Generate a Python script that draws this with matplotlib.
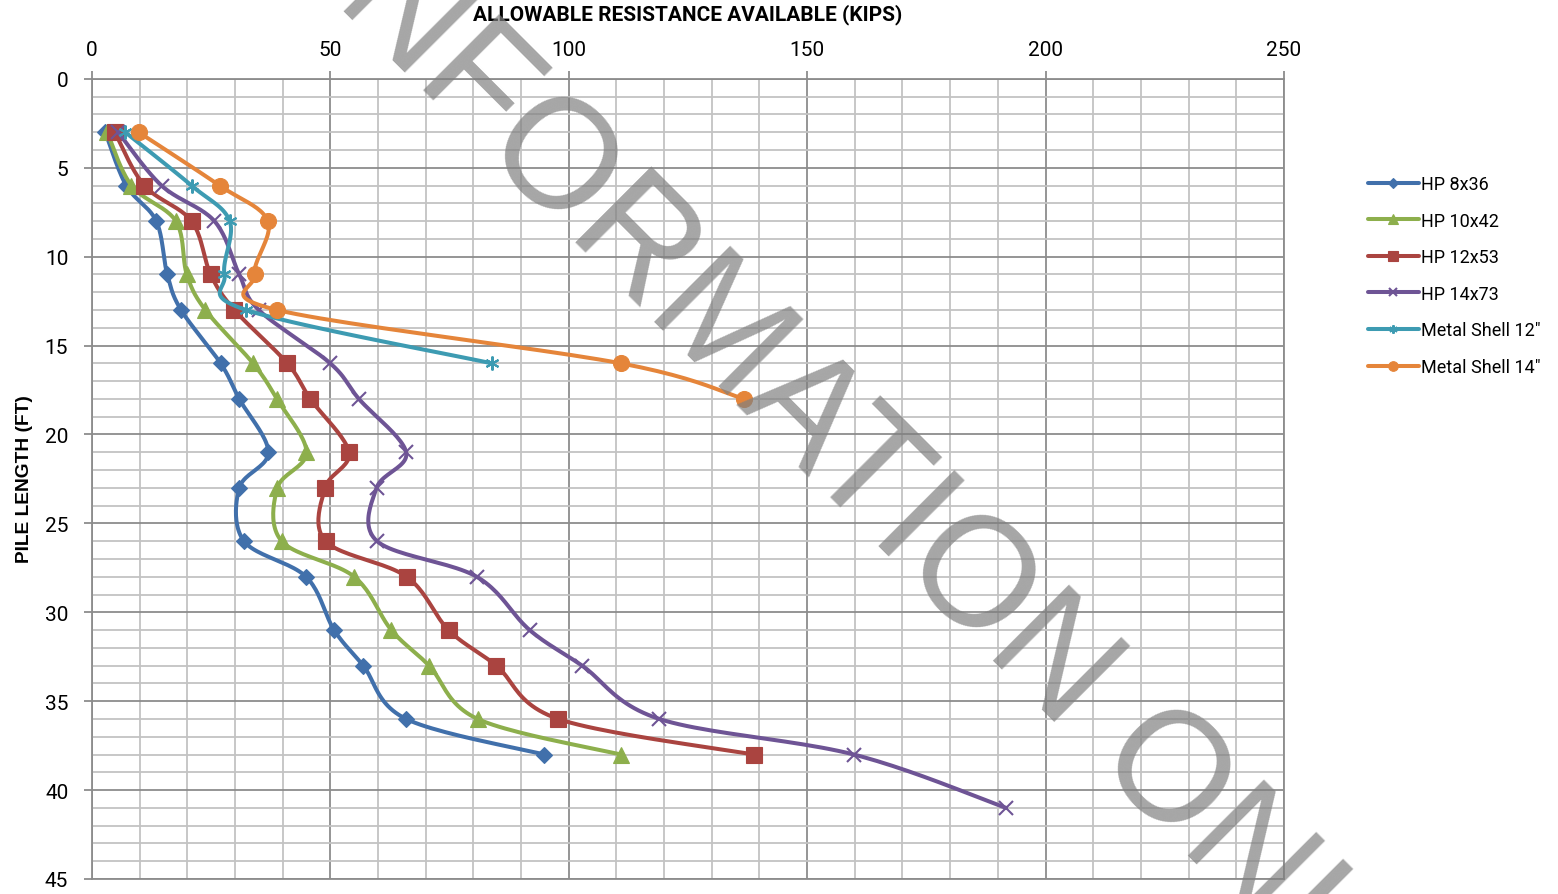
import numpy as np
import matplotlib
matplotlib.use('Agg')
import matplotlib.pyplot as plt
from matplotlib.ticker import MultipleLocator

# pile length (ft) at each data point
depth = [3, 6, 8, 11, 13, 16, 18, 21, 23, 26, 28, 31, 33, 36, 38, 41]

# allowable resistance (kips)
hp8x36 = [2.8, 7.2, 13.5, 15.8, 18.7, 27.0, 30.9, 37.0, 30.9, 31.9, 44.9, 50.8, 56.9, 65.9, 94.9]
hp10x42 = [3.2, 8.3, 17.6, 19.9, 23.8, 33.8, 38.8, 45.0, 38.9, 39.8, 55.0, 62.8, 70.7, 80.9, 110.9]
hp12x53 = [4.8, 11.0, 20.9, 24.9, 29.9, 41.0, 45.8, 53.9, 48.9, 49.0, 66.0, 74.8, 84.8, 97.8, 138.8]
hp14x73 = [5.5, 14.6, 25.7, 30.9, 35.0, 50.0, 56.0, 65.9, 59.7, 59.8, 80.7, 91.8, 102.8, 119.0, 159.8, 191.7]
shell12 = [7.0, 20.9, 28.9, 27.8, 32.4, 83.9]
shell14 = [9.8, 26.8, 36.9, 34.1, 38.9, 111.0, 136.7]

labels = ['HP 8x36', 'HP 10x42', 'HP 12x53', 'HP 14x73', 'Metal Shell 12"', 'Metal Shell 14"']
series = [hp8x36, hp10x42, hp12x53, hp14x73, shell12, shell14]
colors = ['#4170AB', '#8DAF4C', '#AA4440', '#6E5495', '#3D9BB2', '#E5853A']
markers = ['D', '^', 's', 'x', (6, 2, 0), 'o']
msizes = [8.5, 11.5, 11.5, 10, 10, 11.5]


def smooth(x, y, n=24):
    # Excel-style smoothed line: cubic bezier through the points
    pts = np.column_stack([x, y]).astype(float)
    P = np.vstack([pts[0], pts, pts[-1]])
    out = []
    t = np.linspace(0, 1, n)[:, None]
    for i in range(len(pts) - 1):
        p0, p1, p2, p3 = P[i], P[i + 1], P[i + 2], P[i + 3]
        c1 = p1 + (p2 - p0) / 6
        c2 = p2 - (p3 - p1) / 6
        seg = (1 - t) ** 3 * p1 + 3 * (1 - t) ** 2 * t * c1 + 3 * (1 - t) * t ** 2 * c2 + t ** 3 * p2
        out.append(seg if i == 0 else seg[1:])
    return np.vstack(out)


fig = plt.figure(figsize=(15.58, 8.95), dpi=100)
ax = fig.add_axes([0.0590, 0.0168, 0.7651, 0.8939])

n = 24
for vals, lab, col, mk, ms in zip(series, labels, colors, markers, msizes):
    curve = smooth(vals, depth[:len(vals)], n)
    mev = list(range(0, len(curve), n - 1))
    ax.plot(curve[:, 0], curve[:, 1], color=col, lw=2.9, marker=mk, markersize=ms,
            markevery=mev, markeredgewidth=1.5 if mk in ('x', (6, 2, 0)) else 0.8,
            markeredgecolor=col, label=lab, solid_capstyle='round', zorder=3)

ax.set_xlim(0, 250)
ax.set_ylim(45, 0)
ax.xaxis.tick_top()
ax.xaxis.set_major_locator(MultipleLocator(50))
ax.xaxis.set_minor_locator(MultipleLocator(10))
ax.yaxis.set_major_locator(MultipleLocator(5))
ax.yaxis.set_minor_locator(MultipleLocator(1))
ax.grid(which='major', color='#8c8c8c', lw=1.3, zorder=1)
ax.grid(which='minor', color='#c3c3c3', lw=1.3, zorder=0)
ax.set_axisbelow(True)
for s in ax.spines.values():
    s.set_color('#8c8c8c')
    s.set_linewidth(1.3)
ax.tick_params(which='major', length=6, width=1.3, color='#8c8c8c', pad=11,
               labelsize=15, labelfontfamily='Roboto')
ax.tick_params(axis='x', pad=8)
ax.tick_params(which='minor', length=0)

fig.text(688 / 1558, 1 - 15 / 895, 'ALLOWABLE RESISTANCE AVAILABLE (KIPS)', ha='center', va='center',
         fontsize=15, fontweight='bold', family='Roboto')
fig.text(0.016, 1 - 479 / 895, 'PILE LENGTH (FT)', rotation=90, ha='center', va='center',
         fontsize=13.8, fontweight='bold', family='Liberation Sans')

fig.legend(loc='upper left', bbox_to_anchor=(1368 / 1558, 1 - 176 / 895), frameon=False,
           prop={'family': 'Roboto', 'size': 13}, handlelength=2.8, handletextpad=0.15,
           labelspacing=1.03, borderpad=0, borderaxespad=0, markerscale=0.6)

# watermark
fig.text(0.541, 0.428, 'INFORMATION ONLY', rotation=-45, rotation_mode='anchor',
         ha='center', va='baseline', fontsize=111.6, family='Liberation Sans',
         color='#808080', alpha=0.7, zorder=10)

fig.savefig('out.png', dpi=100)
